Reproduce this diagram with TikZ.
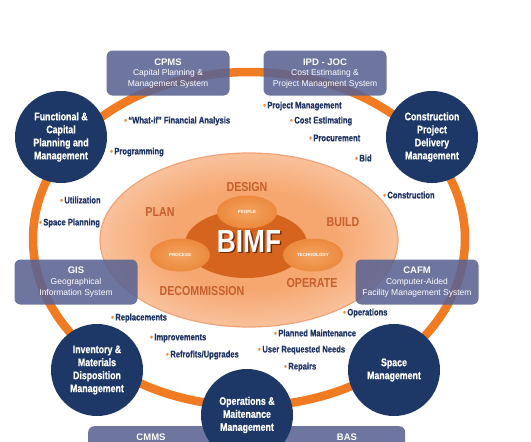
\documentclass[tikz,border=0pt]{standalone}
\usepackage{fontspec}
\setmainfont{Liberation Sans}
\newfontfamily\condfont[FakeStretch=0.82]{Liberation Sans}
\newfontfamily\heavyfont[FakeStretch=0.80,FakeBold=0.6]{Liberation Sans}
\usetikzlibrary{shapes.geometric}
\definecolor{navy}{HTML}{1D3866}
\definecolor{slate}{HTML}{5A6392}
\definecolor{ringorange}{HTML}{F07B23}
\definecolor{phase}{HTML}{C65F2C}
\definecolor{bulletnavy}{HTML}{1F3465}
\definecolor{dot}{HTML}{F5873A}
\definecolor{blob}{HTML}{D5641F}
\definecolor{petalin}{HTML}{F3A361}
\definecolor{petalout}{HTML}{EC8A3D}
\definecolor{peachin}{HTML}{F6A66F}
\definecolor{peachout}{HTML}{FDECE1}
\definecolor{peachedge}{HTML}{F0A377}
\definecolor{bimfshadow}{HTML}{6E2A0C}
\pgfdeclareradialshading{peach}{\pgfpoint{0bp}{0bp}}{color(0bp)=(peachin); color(14bp)=(peachin); color(42bp)=(peachout); color(50bp)=(peachout)}
\newcommand\itemdot{\textcolor{dot}{\textbullet}\hspace{1.5pt}}
\begin{document}
\begin{tikzpicture}[x=1pt,y=-1pt,
  ringline/.style={draw=ringorange, line width=8.5pt},
  hub/.style={circle, fill=navy, minimum size=92pt, inner sep=0pt, text=white, align=center,
    font=\heavyfont\bfseries\fontsize{11}{13}\selectfont},
  sysbox/.style={rounded corners=6pt, fill=slate, fill opacity=0.88, text opacity=1, text=white,
    minimum width=123pt, minimum height=45pt, inner sep=0pt, align=center,
    font=\fontsize{8.5}{11.5}\selectfont},
  boxtitle/.style={text=white, inner sep=0pt, font=\bfseries\fontsize{9.5}{11.5}\selectfont},
  petal/.style={ellipse, inner color=petalin, outer color=petalout, minimum width=60pt, minimum height=33pt,
    inner sep=0pt, text=white, font=\bfseries\fontsize{4.5}{5}\selectfont},
  phaselbl/.style={text=phase, inner sep=0pt, font=\condfont\bfseries\fontsize{13}{13}\selectfont},
  itemlbl/.style={anchor=west, inner sep=0pt, text=bulletnavy, font=\heavyfont\bfseries\fontsize{9.5}{11}\selectfont}
]
\useasboundingbox[fill=white] (0,0) rectangle (531,442);

% outer ring
\draw[ringline] (249,239) ellipse [x radius=216pt, y radius=167pt];

% inner lifecycle ellipse
\shade[shading=peach] (249,240) ellipse [x radius=149pt, y radius=87pt];
\draw[peachedge, line width=1.2pt] (249,240) ellipse [x radius=149pt, y radius=87pt];

% central blob
\fill[blob] (246,244) ellipse [x radius=61pt, y radius=34pt];

% petals
\node[petal] (people) at (247,212) {PEOPLE};
\node[petal] (process) at (180,255) {PROCESS};
\node[petal] (tech) at (313,255) {TECHNOLOGY};

% BIMF
\node[text=bimfshadow, inner sep=0pt, font=\condfont\bfseries\fontsize{32}{32}\selectfont] (bimfs) at (250.5,242.5) {BIMF};
\node[text=white, inner sep=0pt, font=\condfont\bfseries\fontsize{32}{32}\selectfont] (bimf) at (249,241) {BIMF};

% phases
\node[phaselbl] (design) at (247,187) {DESIGN};
\node[phaselbl] (plan) at (160,212) {PLAN};
\node[phaselbl] (build) at (343,222) {BUILD};
\node[phaselbl] (operate) at (312,283) {OPERATE};
\node[phaselbl] (decom) at (202,291) {DECOMMISSION};

% bullet items
\node[itemlbl] (b1) at (124,121) {\itemdot “What-if” Financial Analysis};
\node[itemlbl] (b2) at (110,152) {\itemdot Programming};
\node[itemlbl] (b3) at (263,106) {\itemdot Project Management};
\node[itemlbl] (b4) at (290,121) {\itemdot Cost Estimating};
\node[itemlbl] (b5) at (309,138) {\itemdot Procurement};
\node[itemlbl] (b6) at (355,158) {\itemdot Bid};
\node[itemlbl] (b7) at (383,195) {\itemdot Construction};
\node[itemlbl] (b8) at (60,200) {\itemdot Utilization};
\node[itemlbl] (b9) at (39,223) {\itemdot Space Planning};
\node[itemlbl] (b10) at (111,318) {\itemdot Replacements};
\node[itemlbl] (b11) at (150,338) {\itemdot Improvements};
\node[itemlbl] (b12) at (166,355) {\itemdot Refrofits/Upgrades};
\node[itemlbl] (b13) at (343,313) {\itemdot Operations};
\node[itemlbl] (b14) at (274,333) {\itemdot Planned Maintenance};
\node[itemlbl] (b15) at (258,350) {\itemdot User Requested Needs};
\node[itemlbl] (b16) at (284,367) {\itemdot Repairs};

% system boxes
\node[sysbox] (cpms) at (168,73) {\vphantom{A}\\Capital Planning \&\\Management System};
\node[boxtitle] (cpmst) at (168,62) {CPMS};
\node[sysbox] (ipd) at (325,73) {\vphantom{A}\\Cost Estimating \&\\Project Managment System};
\node[boxtitle] (ipdt) at (325,62) {IPD - JOC};
\node[sysbox] (gis) at (76,282) {\vphantom{A}\\Geographical\\Information System};
\node[boxtitle] (gist) at (76,270) {GIS};
\node[sysbox] (cafm) at (417,282) {\vphantom{A}\\Computer-Aided\\Facility Management System};
\node[boxtitle] (cafmt) at (417,270) {CAFM};
\node[sysbox, minimum width=317pt, minimum height=44pt, anchor=north west] (bottombox) at (88,426) {};
\node[boxtitle] (cmms) at (151,437) {CMMS};
\node[boxtitle] (bas) at (347,437) {BAS};

% hub circles
\node[hub] (fcpm) at (61,137) {Functional \&\\Capital\\Planning and\\Management};
\node[hub] (cpdm) at (432,137) {Construction\\Project\\Delivery\\Management};
\node[hub] (imdm) at (97,370) {Inventory \&\\Materials\\Disposition\\Management};
\node[hub] (spm) at (394,370) {Space\\Management};
\node[hub] (omm) at (247,415) {Operations \&\\Maitenance\\Management};
\end{tikzpicture}
\end{document}
